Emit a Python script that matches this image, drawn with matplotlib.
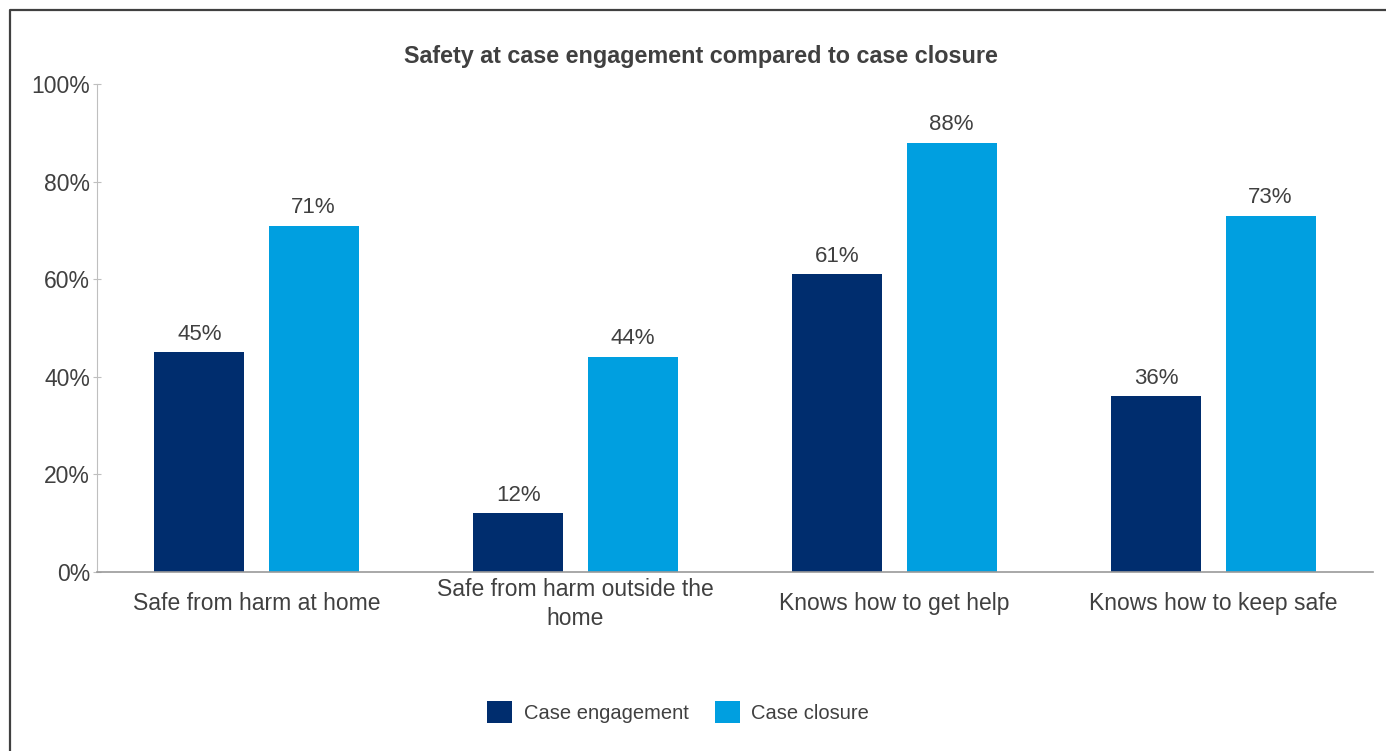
import matplotlib.pyplot as plt
import numpy as np
from matplotlib.lines import Line2D
from matplotlib.patches import Patch

plt.rcParams['font.family'] = ['Liberation Sans', 'DejaVu Sans']

categories = ["Safe from harm at home", "Safe from harm outside the\nhome",
              "Knows how to get help", "Knows how to keep safe"]
engagement = [45, 12, 61, 36]
closure = [71, 44, 88, 73]
series_names = ["Case engagement", "Case closure"]
yticks = [0, 20, 40, 60, 80, 100]

dark = "#002D6E"
light = "#009FE0"
text_col = "#404040"

W, H = 1386, 751
fig = plt.figure(figsize=(W / 100, H / 100), dpi=100)
ax = fig.add_axes([97 / W, 1 - 572 / H, (1373 - 97) / W, (572 - 84) / H])

x = np.arange(len(categories))
bw = 0.282
off = 0.179
b1 = ax.bar(x - off, engagement, bw, color=dark)
b2 = ax.bar(x + off, closure, bw, color=light)

for bars, vals in ((b1, engagement), (b2, closure)):
    for b, v in zip(bars, vals):
        ax.text(b.get_x() + b.get_width() / 2, v + 1.6, f"{v}%",
                ha="center", va="bottom", fontsize=16, color=text_col)

ax.set_xlim(-0.5, len(categories) - 0.5)
ax.set_ylim(0, 100)
ax.set_yticks(yticks)
ax.set_yticklabels([f"{t}%" for t in yticks], fontsize=16.5)
ax.set_xticks(x)
ax.set_xticklabels(categories, linespacing=1.3, va="center")

for s in ("top", "right"):
    ax.spines[s].set_visible(False)
ax.spines["left"].set_color("#BFBFBF")
ax.spines["bottom"].set_color("#999999")
ax.spines["bottom"].set_linewidth(1.2)
ax.tick_params(axis="y", direction="inout", length=6, color="#BFBFBF",
               labelcolor=text_col, pad=2)
ax.tick_params(axis="x", length=0, labelsize=16.5, labelcolor=text_col, pad=23)

fig.text(701 / W, 1 - 57 / H, "Safety at case engagement compared to case closure",
         ha="center", va="center", fontsize=16.8, fontweight="bold", color=text_col)

handles = [Patch(facecolor=dark), Patch(facecolor=light)]
fig.legend(handles, series_names, loc="center", bbox_to_anchor=(678 / W, 1 - 712 / H),
           ncol=2, frameon=False, fontsize=14.5, labelcolor=text_col,
           handlelength=1.25, handleheight=1.25, handletextpad=0.55, columnspacing=1.3)

# frame lines of the surrounding box (top and left visible)
fig.add_artist(Line2D([10 / W, 10 / W, 1], [0, 1 - 10 / H, 1 - 10 / H],
                      transform=fig.transFigure, color="#404040", linewidth=1.6))

fig.savefig("out.png", dpi=100)
